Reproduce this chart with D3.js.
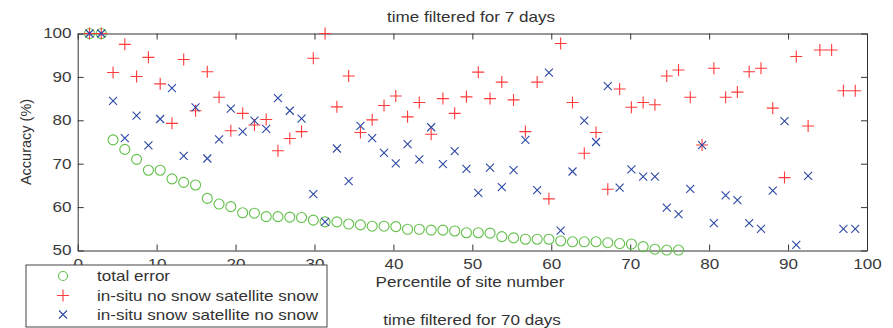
<!DOCTYPE html>
<html>
<head>
<meta charset="utf-8">
<script src="https://cdn.jsdelivr.net/npm/d3@7"></script>
<style>
  body { margin: 0; background: #fff; }
  svg text { font-family: "Liberation Sans", Arial, sans-serif; fill: #333; }
</style>
</head>
<body>
<div id="chart"></div>
<script>
// percentile of site number (x)
const percentile = [
    1.49, 2.99, 4.48, 5.97, 7.46, 8.96, 10.45, 11.94, 13.43, 14.93,
    16.42, 17.91, 19.40, 20.90, 22.39, 23.88, 25.37, 26.87, 28.36, 29.85,
    31.34, 32.84, 34.33, 35.82, 37.31, 38.81, 40.30, 41.79, 43.28, 44.78,
    46.27, 47.76, 49.25, 50.75, 52.24, 53.73, 55.22, 56.72, 58.21, 59.70,
    61.19, 62.69, 64.18, 65.67, 67.16, 68.66, 70.15, 71.64, 73.13, 74.63,
    76.12, 77.61, 79.10, 80.60, 82.09, 83.58, 85.07, 86.57, 88.06, 89.55,
    91.04, 92.54, 94.03, 95.52, 97.01, 98.51
];

// total error (points below 50 are off the axis)
const totalError = [
    100, 100, 75.5, 73.3, 71.0, 68.5, 68.5, 66.5, 65.7, 65.1,
    62.0, 60.7, 60.1, 58.7, 58.6, 57.8, 57.8, 57.7, 57.6, 57.0,
    56.6, 56.6, 56.1, 55.9, 55.6, 55.6, 55.5, 54.9, 54.9, 54.7,
    54.7, 54.5, 54.1, 54.1, 54.0, 53.2, 52.9, 52.6, 52.6, 52.6,
    52.2, 52.0, 52.0, 52.0, 51.8, 51.6, 51.5, 50.9, 50.3, 50.1,
    50.1, null, null, null, null, null, null, null, null, null,
    null, null, null, null, null, null
];

// in-situ no snow, satellite snow
const noSnowSatSnow = [
    100, 100, 91.0, 97.5, 90.1, 94.5, 88.4, 79.3, 94.0, 82.2,
    91.2, 85.3, 77.6, 81.6, 78.9, 80.2, 73.0, 75.8, 77.4, 94.3,
    100, 83.1, 90.2, 77.2, 80.1, 83.4, 85.6, 80.8, 84.1, 76.8,
    85.0, 81.6, 85.4, 91.1, 85.0, 88.8, 84.7, 77.4, 88.8, 61.9,
    97.7, 84.1, 72.4, 77.2, 64.1, 87.2, 83.0, 84.1, 83.6, 90.2,
    91.6, 85.3, 74.3, 92.0, 85.3, 86.5, 91.2, 92.0, 82.8, 66.8,
    94.7, 78.7, 96.2, 96.2, 86.8, 86.8
];

// in-situ snow, satellite no snow
const snowSatNoSnow = [
    100, 100, 84.5, 75.9, 81.1, 74.2, 80.3, 87.4, 71.8, 83.0,
    71.2, 75.6, 82.7, 77.4, 79.9, 78.0, 85.1, 82.2, 80.4, 63.0,
    56.6, 73.5, 66.0, 78.7, 75.9, 72.5, 70.1, 74.5, 71.0, 78.4,
    69.9, 72.9, 68.8, 63.3, 69.1, 64.6, 68.5, 75.5, 63.9, 91.0,
    54.6, 68.2, 79.9, 75.0, 87.9, 64.5, 68.7, 67.0, 67.0, 59.9,
    58.4, 64.2, 74.3, 56.3, 62.7, 61.6, 56.3, 55.0, 63.8, 79.8,
    51.3, 67.2, null, null, 55.0, 55.0
];

const xTicks = [0, 10, 20, 30, 40, 50, 60, 70, 80, 90, 100];
const yTicks = [50, 60, 70, 80, 90, 100];

const legendLabels = [
    "total error",
    "in-situ no snow satellite snow",
    "in-situ snow satellite no snow"
];

// Set up the chart
const width = 893, height = 328;
const plotLeft = 77.7, plotRight = 867, plotTop = 33.5, plotBottom = 250.5;
const stretch = 1.22; // the original lettering is wider than Liberation Sans

const svg = d3.select("#chart")
    .append("svg")
    .attr("width", width)
    .attr("height", height);

const x = d3.scaleLinear().domain([0, 100]).range([plotLeft, plotRight]);
const y = d3.scaleLinear().domain([50, 100]).range([plotBottom, plotTop]);

const axisColor = "#333";

// marker shapes
const plusPath = "M-6,0H6M0,-6V6";
const crossPath = "M-4,-4L4,4M-4,4L4,-4";

const series = [
    { values: totalError, type: "circle", color: "#62c04a" },
    { values: noSnowSatSnow, type: "plus", color: "#ff3a3a" },
    { values: snowSatNoSnow, type: "cross", color: "#2c48a4" }
];

// stretched text helper
function label(parent, tx, ty, str, anchor) {
    return parent.append("text")
        .attr("transform", "translate(" + tx + "," + ty + ") scale(" + stretch + ",1)")
        .attr("text-anchor", anchor || "middle")
        .style("font-size", "14px")
        .text(str);
}

// axes (ticks point inward like matlab)
svg.append("g")
    .attr("transform", "translate(0," + plotBottom + ")")
    .call(d3.axisBottom(x).tickValues(xTicks).tickSizeInner(-6).tickSizeOuter(0).tickPadding(9))
    .call(g => g.selectAll("text").style("font-size", "14px")
        .attr("transform", "scale(" + stretch + ",1)"));

svg.append("g")
    .attr("transform", "translate(" + plotLeft + ",0)")
    .call(d3.axisLeft(y).tickValues(yTicks).tickSizeInner(-6).tickSizeOuter(0).tickPadding(5))
    .call(g => g.selectAll("text").style("font-size", "14px")
        .attr("transform", "scale(" + stretch + ",1)"));

svg.append("g")
    .attr("transform", "translate(0," + plotTop + ")")
    .call(d3.axisTop(x).tickValues(xTicks).tickSizeInner(-6).tickSizeOuter(0).tickFormat(""));

svg.append("g")
    .attr("transform", "translate(" + plotRight + ",0)")
    .call(d3.axisRight(y).tickValues(yTicks).tickSizeInner(-6).tickSizeOuter(0).tickFormat(""));

svg.selectAll(".domain, .tick line").attr("stroke", axisColor);
svg.selectAll(".tick text").style("fill", "#3a3a3a");

// points
series.forEach(function (s) {
    const pts = s.values
        .map((v, i) => ({ px: percentile[i], v: v }))
        .filter(d => d.v !== null);

    const g = svg.append("g");
    if (s.type === "circle") {
        g.selectAll("circle")
            .data(pts)
            .enter()
            .append("circle")
            .attr("cx", d => x(d.px))
            .attr("cy", d => y(d.v))
            .attr("r", 5)
            .attr("fill", "none")
            .attr("stroke", s.color)
            .attr("stroke-width", 1.1);
    } else {
        g.selectAll("path")
            .data(pts)
            .enter()
            .append("path")
            .attr("transform", d => "translate(" + x(d.px) + "," + y(d.v) + ")")
            .attr("d", s.type === "plus" ? plusPath : crossPath)
            .attr("fill", "none")
            .attr("stroke", s.color)
            .attr("stroke-width", 1.1);
    }
});

// titles
label(svg, 471, 22, "time filtered for 7 days");
label(svg, 470, 287, "Percentile of site number");
label(svg, 472, 325, "time filtered for 70 days");

svg.append("text")
    .attr("transform", "translate(31,142) rotate(-90)")
    .attr("text-anchor", "middle")
    .style("font-size", "14.5px")
    .text("Accuracy (%)");

// legend box
const legend = svg.append("g");
legend.append("rect")
    .attr("x", 26)
    .attr("y", 265)
    .attr("width", 301)
    .attr("height", 62)
    .attr("fill", "#fff")
    .attr("stroke", "#444")
    .attr("stroke-width", 1);

const rowY = [276, 295.5, 314.5];
legendLabels.forEach(function (text, i) {
    const s = series[i];
    if (s.type === "circle") {
        legend.append("circle")
            .attr("cx", 63).attr("cy", rowY[i]).attr("r", 4.5)
            .attr("fill", "none").attr("stroke", s.color).attr("stroke-width", 1.1);
    } else {
        legend.append("path")
            .attr("transform", "translate(63," + rowY[i] + ")")
            .attr("d", s.type === "plus" ? plusPath : crossPath)
            .attr("fill", "none").attr("stroke", s.color).attr("stroke-width", 1.1);
    }
    label(legend, 97, rowY[i] + 5, text, "start");
});
</script>
</body>
</html>
